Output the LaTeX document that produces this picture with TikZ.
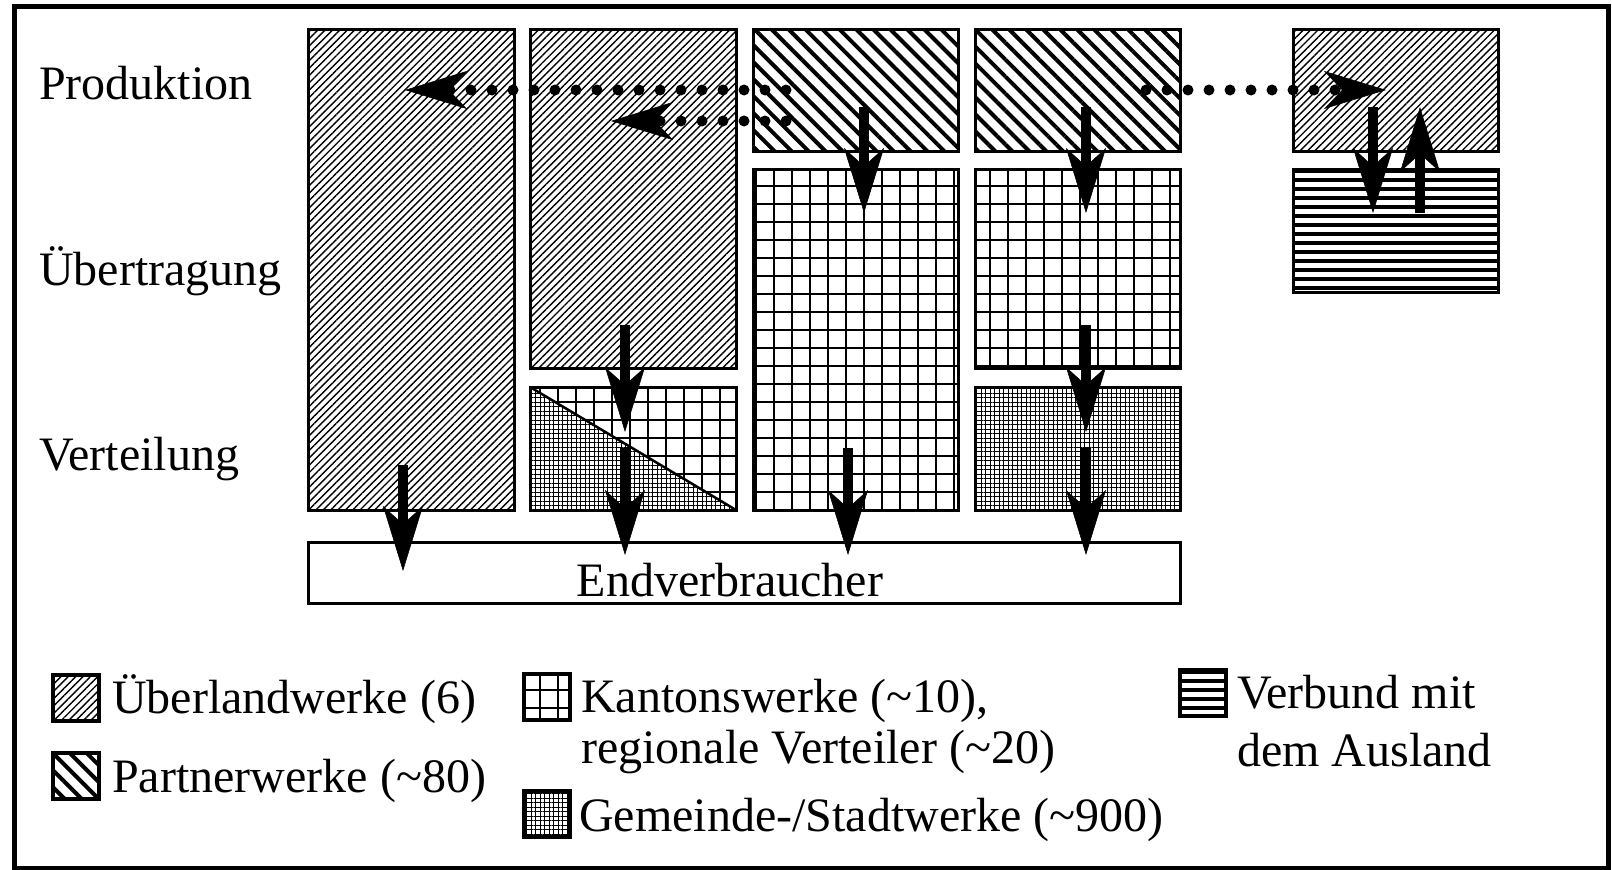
\documentclass[tikz,border=0pt]{standalone}
\usepackage{fontspec}
\setmainfont{Liberation Serif}
\usetikzlibrary{patterns.meta,arrows.meta,calc}

\tikzset{
  % fill patterns of the five kinds of utilities
  ueberland/.style={pattern={Lines[angle=45,distance=5.2pt,line width=1.4pt]}},
  partner/.style={pattern={Lines[angle=-45,distance=12pt,line width=4pt]}},
  kanton/.style={pattern={Hatch[angle=0,distance=18pt,line width=2.6pt]}},
  gemeinde/.style={pattern={Hatch[angle=0,distance=4.5pt,line width=0.8pt]}},
  verbund/.style={path picture={
    \foreach \k in {0,...,16}
      \draw[line width=4.6pt]
        ([yshift={-2pt-\k*9pt}]path picture bounding box.north west) -- ++(300,0);}},
  % boxes
  unit/.style={draw, line width=3pt, inner sep=0pt, outer sep=0pt},
  keybox/.style={draw, line width=4pt, minimum size=46pt, inner sep=0pt, outer sep=0pt},
  % connectors
  flow/.style={line width=10pt,
    -{Stealth[length=65pt,width=40pt,inset=18pt,line width=0.5pt]}},
  trade/.style={line width=11pt, line cap=round, dash pattern=on 0pt off 21pt,
    -{Stealth[length=62pt,width=38pt,inset=18pt,line width=0.5pt]}},
  label/.style={anchor=base west, inner sep=0pt},
}

\begin{document}
\begin{tikzpicture}[x=1pt, y=-1pt,
  every node/.append style={font=\fontsize{48}{58}\selectfont}]
\useasboundingbox (0,0) rectangle (1612,870);
\draw[line width=5pt] (14.5,6) rectangle (1608.5,868);

% row labels
\node[label] (lprod) at (39,99)  {Produktion};
\node[label] (luebt) at (39,285) {Übertragung};
\node[label] (lvert) at (39,470) {Verteilung};

% column 1
\node[unit, ueberland, minimum width=206pt, minimum height=481pt] (c1) at (411,269.5) {};
% column 2
\node[unit, ueberland, minimum width=206pt, minimum height=339pt] (c2t) at (633,198.5) {};
\node[inner sep=0pt, outer sep=0pt, minimum width=206pt, minimum height=123pt] (c2b) at (633,448.5) {};
\fill[gemeinde] (c2b.north west) -- (c2b.south east) -- (c2b.south west) -- cycle;
\fill[kanton] (c2b.north west) -- (c2b.north east) -- (c2b.south east) -- cycle;
\draw[line width=3pt] (c2b.north west) rectangle (c2b.south east);
\draw[line width=2.5pt] (c2b.north west) -- (c2b.south east);
% column 3
\node[unit, partner, minimum width=205pt, minimum height=122pt] (c3t) at (855.5,90) {};
\node[unit, kanton, minimum width=205pt, minimum height=341pt] (c3b) at (855.5,339.5) {};
% column 4
\node[unit, partner, minimum width=205pt, minimum height=122pt] (c4t) at (1077.5,90) {};
\node[unit, kanton, minimum width=205pt, minimum height=199pt] (c4m) at (1077.5,268.5) {};
\node[unit, gemeinde, minimum width=205pt, minimum height=123pt] (c4b) at (1077.5,448.5) {};
% column 5
\node[unit, ueberland, minimum width=205pt, minimum height=122pt] (c5t) at (1395.5,90) {};
\node[unit, verbund, minimum width=205pt, minimum height=123pt] (c5b) at (1395.5,230.5) {};

% consumers
\node[unit, fill=white, minimum width=872pt, minimum height=61pt] (end) at (744,572.5) {};
\node[anchor=base, inner sep=0pt] (endtxt) at ($(end.center)+(-14,23.5)$) {Endverbraucher};

% ends of the flow arrows
\coordinate (f1a) at (403,465);  \coordinate (f1b) at (403,571);
\coordinate (f2a) at (625,325);  \coordinate (f2b) at (625,432);
\coordinate (f3a) at (625,448);  \coordinate (f3b) at (625,555);
\coordinate (f4a) at (864,107);  \coordinate (f4b) at (864,213);
\coordinate (f5a) at (848,448);  \coordinate (f5b) at (848,555);
\coordinate (f6a) at (1086,107); \coordinate (f6b) at (1086,213);
\coordinate (f7a) at (1086,325); \coordinate (f7b) at (1086,432);
\coordinate (f8a) at (1086,448); \coordinate (f8b) at (1086,555);
\coordinate (f9a) at (1373,107); \coordinate (f9b) at (1373,213);
\coordinate (f10a) at (1420,213); \coordinate (f10b) at (1420,107);

\foreach \i in {1,...,10} \draw[flow] (f\i a) -- (f\i b);

% exchange between utilities
\coordinate (t1a) at (786,90);  \coordinate (t1b) at (405,90);
\coordinate (t2a) at (786,121); \coordinate (t2b) at (611,121);
\coordinate (t3a) at (1146,90); \coordinate (t3b) at (1386,90);
\draw[trade] (t1a) -- (t1b);
\draw[trade] (t2a) -- (t2b);
\draw[trade] (t3a) -- (t3b);

% legend
\node[keybox, ueberland] (k1) at (76,697.5) {};
\node[label] (k1t) at (112,713) {Überlandwerke (6)};
\node[keybox, partner] (k2) at (76,776) {};
\node[label] (k2t) at (112,792) {Partnerwerke (\textasciitilde80)};
\node[keybox, kanton] (k3) at (546.5,697) {};
\node[label, font=\fontsize{48}{51}\selectfont] (k3t) at (581,712)
  {\begin{tabular}[t]{@{}l@{}}Kantonswerke (\textasciitilde10),\\regionale Verteiler (\textasciitilde20)\end{tabular}};
\node[keybox, gemeinde] (k4) at (546.5,814) {};
\node[label] (k4t) at (579,831) {Gemeinde-/Stadtwerke (\textasciitilde900)};
\node[keybox, verbund] (k5) at (1203,693) {};
\node[label] (k5t) at (1237,708) {\begin{tabular}[t]{@{}l@{}}Verbund mit\\dem Ausland\end{tabular}};
\end{tikzpicture}
\end{document}
